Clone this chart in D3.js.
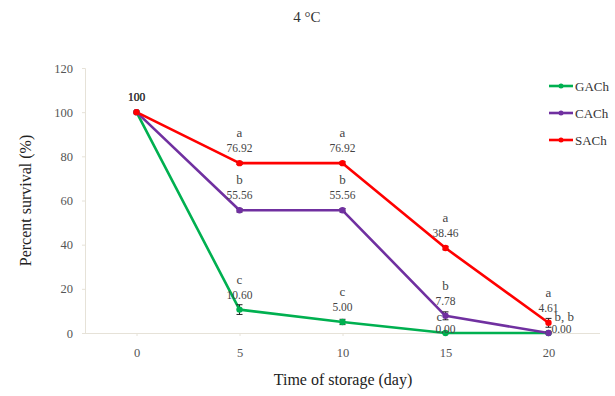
<!DOCTYPE html>
<html><head><meta charset="utf-8">
<script src="https://cdn.jsdelivr.net/npm/d3@7"></script>
<style>body{margin:0;background:#fff}svg{display:block}text{font-family:"Liberation Serif","Times New Roman",serif}</style>
</head><body><svg id="c" width="615" height="396"></svg>
<script>
const days = ["0","5","10","15","20"];
const yTicks = [0,20,40,60,80,100,120];
const seriesNames = ["GACh","CACh","SACh"];
const seriesColors = ["#00B050","#7030A0","#FF0000"];
const gachValues = [100,10.60,5.00,0.00,0.00];
const cachValues = [100,55.56,55.56,7.78,0.00];
const sachValues = [100,76.92,76.92,38.46,4.61];
const gachErr = [0,2.2,1.2,0.6,0];
const cachErr = [0,0.8,0.8,1.8,0.5];
const sachErr = [0,0.6,0.6,0.8,2.0];
const gachLetters = ["","c","c","c","b, b"];
const cachLetters = ["","b","b","b",""];
const sachLetters = ["","a","a","a","a"];

const series = [
  {name:seriesNames[0],color:seriesColors[0],values:gachValues,err:gachErr,letters:gachLetters},
  {name:seriesNames[1],color:seriesColors[1],values:cachValues,err:cachErr,letters:cachLetters},
  {name:seriesNames[2],color:seriesColors[2],values:sachValues,err:sachErr,letters:sachLetters}
];

const svg = d3.select("#c");
const m = {l:85, r:600, t:68, b:333};
const x = d3.scalePoint().domain(days).range([m.l, m.r]).padding(0.5);
const y = d3.scaleLinear().domain([0,120]).range([m.b, m.t]);
const axisCol = "#e6e2d8", textCol = "#555";

// title
svg.append("text").attr("x",307).attr("y",22).attr("text-anchor","middle")
  .attr("font-size",15).attr("fill","#333").text("4 °C");

// y axis
const ya = svg.append("g").attr("transform",`translate(${m.l},0)`)
  .call(d3.axisLeft(y).tickValues(yTicks).tickSize(3).tickPadding(9));
ya.select(".domain").attr("stroke",axisCol);
ya.selectAll(".tick line").attr("stroke",axisCol);
ya.selectAll("text").attr("font-size",12.5).attr("fill",textCol)
  .attr("font-family","'Liberation Serif',serif");

// x axis
const xa = svg.append("g").attr("transform",`translate(0,${m.b})`)
  .call(d3.axisBottom(x).tickSize(3).tickPadding(12));
xa.select(".domain").attr("stroke",axisCol).attr("d",`M${m.l},0.5H${m.r}`);
xa.selectAll(".tick line").attr("stroke",axisCol);
xa.selectAll("text").attr("font-size",12.5).attr("fill",textCol)
  .attr("font-family","'Liberation Serif',serif");

// axis titles
svg.append("text").attr("transform",`translate(31,${(m.t+m.b)/2}) rotate(-90)`)
  .attr("text-anchor","middle").attr("font-size",16).attr("fill","#222")
  .text("Percent survival (%)");
svg.append("text").attr("x",343).attr("y",385).attr("text-anchor","middle")
  .attr("font-size",16).attr("fill","#222").text("Time of storage (day)");

const line = d3.line().x((d,i)=>x(days[i])).y(d=>y(d));

series.forEach(s=>{
  svg.append("path").attr("d",line(s.values)).attr("fill","none")
    .attr("stroke",s.color).attr("stroke-width",2.6).attr("stroke-linejoin","round");
});
series.forEach(s=>{
  const g = svg.append("g");
  s.values.forEach((v,i)=>{
    const cx = x(days[i]), cy = y(v);
    if (s.err[i] > 0) {
      const t = y(v + s.err[i]), b = y(Math.max(0, v - s.err[i]));
      g.append("path").attr("d",`M${cx},${t}V${b}M${cx-3},${t}H${cx+3}M${cx-3},${b}H${cx+3}`)
        .attr("stroke","#222").attr("stroke-width",1).attr("fill","none");
    }
    g.append("circle").attr("cx",cx).attr("cy",cy).attr("r",3.2).attr("fill",s.color);
  });
});

// data labels
const drawn = new Set();
series.forEach(s=>{
  s.values.forEach((v,i)=>{
    const cx = x(days[i]), cy = y(v);
    let vx = cx, vy = cy - 11, lx = cx, ly = cy - 26, la = "middle";
    if (v === 0) {
      vy = cy; ly = cy - 12;
      if (i === days.length - 1) { vx = cx + 13; lx = cx + 6; la = "start"; }
      else { lx = cx - 6; }
    }
    const key = i + ":" + v;
    if (!(v === 0 && drawn.has(key))) {
      svg.append("text").attr("x",vx).attr("y",vy).attr("text-anchor","middle")
        .attr("font-size",11.5).attr("fill","#444").text(v.toFixed(i===0?0:2));
      drawn.add(key);
    }
    if (s.letters[i]) {
      svg.append("text").attr("x",lx).attr("y",ly).attr("text-anchor",la)
        .attr("font-size",13).attr("fill","#444").text(s.letters[i]);
    }
  });
});

// legend
series.forEach((s,i)=>{
  const ly = 86 + i*27;
  svg.append("line").attr("x1",549).attr("x2",573).attr("y1",ly).attr("y2",ly)
    .attr("stroke",s.color).attr("stroke-width",2.6);
  svg.append("circle").attr("cx",561).attr("cy",ly).attr("r",2.5).attr("fill",s.color);
  svg.append("text").attr("x",575).attr("y",ly+4.5).attr("font-size",13)
    .attr("fill","#333").text(s.name);
});
</script></body></html>
